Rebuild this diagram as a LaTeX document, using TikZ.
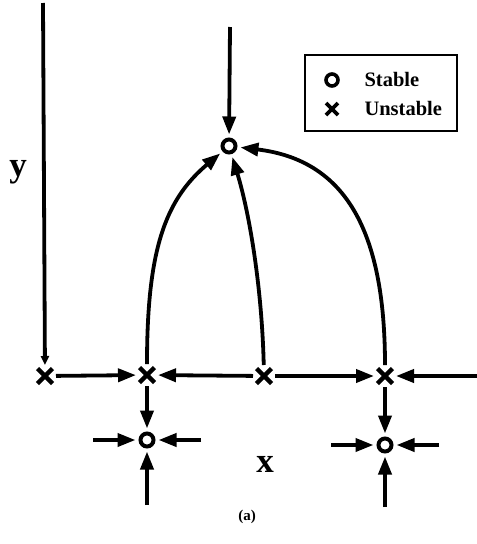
\documentclass[tikz,border=0pt]{standalone}
\usepackage{fontspec}
\setmainfont{Liberation Serif}
\usetikzlibrary{arrows.meta}
\begin{document}
\begin{tikzpicture}[x=1pt,y=-1pt,
  stab/.style={circle,draw,line width=4pt,minimum size=13pt,inner sep=0pt,outer sep=5pt},
  unst/.style={circle,minimum size=22pt,inner sep=0pt,outer sep=0pt},
  crs/.style={line width=4.5pt},
  ar/.style={line width=3.8pt,-{Triangle[length=18pt,width=13pt]}},
  lab/.style={font=\bfseries\fontsize{35}{37}\selectfont}]
\useasboundingbox (0,0) rectangle (477,544);
% nodes
\node[stab] (o1) at (229,146) {};
\node[stab] (o2) at (147,440) {};
\node[stab] (o3) at (385,445) {};
\node[unst] (x1) at (45,376) {};
\node[unst] (x2) at (147,375) {};
\node[unst] (x3) at (264,376) {};
\node[unst] (x4) at (385,376) {};
\foreach \n in {x1,x2,x3,x4}{
  \draw[crs] ([shift={(-7.5,-7.5)}]\n.center) -- ([shift={(7.5,7.5)}]\n.center);
  \draw[crs] ([shift={(-7.5,7.5)}]\n.center) -- ([shift={(7.5,-7.5)}]\n.center);
}
% free ends
\coordinate (t1) at (230,27);
\coordinate (t0) at (43,3);
\coordinate (r4) at (477,376);
\coordinate (o2l) at (93,440);
\coordinate (o2r) at (201,440);
\coordinate (o2b) at (147,505);
\coordinate (o3l) at (331,445);
\coordinate (o3r) at (439,445);
\coordinate (o3b) at (385,507);
% connectors
\draw[ar] (t1) -- (o1);
\draw[ar,-{Triangle[length=9pt,width=8pt]}] (t0) -- (x1);
\draw[ar] (x1) -- (x2);
\draw[ar] (x3) -- (x2);
\draw[ar] (x3) -- (x4);
\draw[ar] (r4) -- (x4);
\draw[ar] (x2) -- (o2);
\draw[ar] (x4) -- (o3);
\draw[ar] (o2l) -- (o2);
\draw[ar] (o2r) -- (o2);
\draw[ar] (o2b) -- (o2);
\draw[ar] (o3l) -- (o3);
\draw[ar] (o3r) -- (o3);
\draw[ar] (o3b) -- (o3);
\draw[ar] (x2) .. controls (147,250) and (165,200) .. (o1);
\draw[ar] (x3) .. controls (262,290) and (250,215) .. (o1);
\draw[ar] (x4) .. controls (385,230) and (345,160) .. (o1);
% labels
\node[lab] (ly) at (18,172) {y};
\node[lab] (lx) at (265,464) {x};
\node[font=\bfseries\fontsize{15}{17}\selectfont] (la) at (247,517) {(a)};
% legend
\node[draw,line width=2pt,minimum width=152pt,minimum height=76pt,inner sep=0pt] (leg) at (381,93) {};
\node[circle,draw,line width=3.6pt,minimum size=12pt,inner sep=0pt] (ls) at (332,80) {};
\node[minimum size=14pt,inner sep=0pt] (lu) at (332,109) {};
\draw[crs,line width=3.8pt] ([shift={(-6,-6)}]lu.center) -- ([shift={(6,6)}]lu.center);
\draw[crs,line width=3.8pt] ([shift={(-6,6)}]lu.center) -- ([shift={(6,-6)}]lu.center);
\node[anchor=base west,font=\bfseries\fontsize{20.5}{22}\selectfont] (lst) at (361,86) {Stable};
\node[anchor=base west,font=\bfseries\fontsize{20.5}{22}\selectfont] (lut) at (361,115) {Unstable};
\end{tikzpicture}
\end{document}
